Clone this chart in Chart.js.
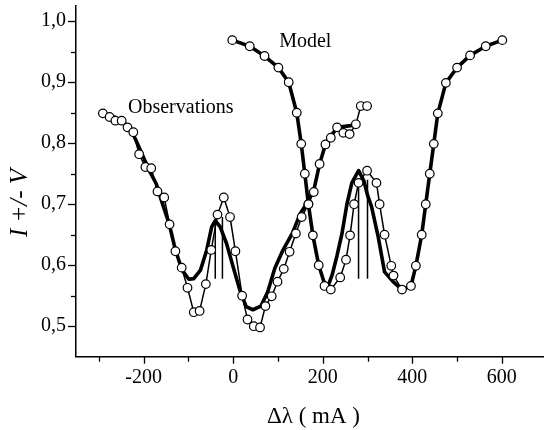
<!DOCTYPE html>
<html><head><meta charset="utf-8">
<script src="https://cdn.jsdelivr.net/npm/chart.js@4/dist/chart.umd.min.js"></script>
<style>html,body{margin:0;padding:0;background:#fff}</style>
</head><body>
<canvas id="c" width="549" height="430"></canvas>
<script>
// Observations (I+V) – open circles, thin line
const obsPlusX = [-291,-276,-263,-249,-236,-223,-210,-196,-183,-169,-154,-142,-129,-115,-102,-88,-75,-61,-49,-35,-21,-7,5,20,32,46,60,72,86,99,113,126,140,153,168,180,193,206,218,232,246,260,274,285,299];
const obsPlusY = [0.849,0.843,0.837,0.837,0.826,0.818,0.782,0.761,0.759,0.721,0.711,0.667,0.623,0.596,0.563,0.523,0.525,0.569,0.625,0.683,0.711,0.679,0.623,0.550,0.511,0.500,0.498,0.533,0.549,0.573,0.594,0.622,0.652,0.679,0.700,0.720,0.766,0.798,0.809,0.826,0.817,0.815,0.831,0.861,0.861];
// Observations (I-V)
const obsMinusX = [-2,37,70,101,124,142,152,160,168,178,191,204,218,239,252,261,270,280,299,320,327,338,353,358,377,397,408,421,430,439,448,457,475,500,529,564,601];
const obsMinusY = [0.969,0.959,0.943,0.924,0.900,0.850,0.799,0.750,0.700,0.649,0.600,0.566,0.560,0.580,0.609,0.649,0.700,0.735,0.755,0.735,0.700,0.650,0.599,0.583,0.560,0.566,0.599,0.650,0.700,0.750,0.799,0.849,0.899,0.924,0.944,0.959,0.969];
// Model (I+V) – thick line
const modelPlusX = [-269,-254,-236,-221,-205,-188,-172,-158,-143,-129,-114,-99,-88,-73,-59,-48,-40,-29,-15,0,15,29,44,62,77,93,110,132,150,165,181,193,206,218,232,254,274];
const modelPlusY = [0.844,0.839,0.828,0.811,0.785,0.756,0.734,0.701,0.668,0.625,0.592,0.577,0.578,0.592,0.625,0.663,0.673,0.663,0.636,0.597,0.559,0.532,0.527,0.533,0.556,0.595,0.623,0.652,0.685,0.702,0.726,0.766,0.798,0.811,0.826,0.828,0.830];
// Model (I-V)
const modelMinusX = [-2,37,70,101,124,142,152,160,168,178,191,204,210,221,232,243,254,265,280,292,300,309,324,338,357,371,378,397,408,421,430,439,448,457,475,500,529,564,601];
const modelMinusY = [0.969,0.959,0.943,0.924,0.900,0.850,0.799,0.750,0.700,0.649,0.600,0.570,0.562,0.584,0.616,0.652,0.700,0.735,0.755,0.738,0.715,0.696,0.646,0.589,0.573,0.564,0.560,0.566,0.599,0.650,0.700,0.750,0.799,0.849,0.899,0.924,0.944,0.959,0.969];
// Component lines
const compX = [-40,-24,280,300];
const compTop = [0.671,0.679,0.735,0.740];
const compBase = 0.578;
// Ticks
const xTickValues = [-300,-200,-100,0,100,200,300,400,500,600];
const yTickValues = [0.5,0.55,0.6,0.65,0.7,0.75,0.8,0.85,0.9,0.95,1.0];
const xTitle = 'Δλ ( mA )';
const yTitle = 'I +/- V';
const labels = [{text:'Observations', x:-117, y:0.849},{text:'Model', x:161, y:0.958}];

const pts = (xs, ys) => xs.map((x,i)=>({x:x, y:ys[i]}));
const SERIF = '"Liberation Serif", "Times New Roman", serif';

const datasets = [];
datasets.push({data:pts(obsPlusX,obsPlusY), borderColor:'#000', borderWidth:1.5, pointRadius:4.3, pointBackgroundColor:'#fff', pointBorderColor:'#000', pointBorderWidth:1.2, tension:0, order:0});
datasets.push({data:pts(obsMinusX,obsMinusY), borderColor:'#000', borderWidth:1.5, pointRadius:4.3, pointBackgroundColor:'#fff', pointBorderColor:'#000', pointBorderWidth:1.2, tension:0, order:0});
datasets.push({data:pts(modelPlusX,modelPlusY), borderColor:'#000', borderWidth:3.6, pointRadius:0, tension:0, order:1, borderJoinStyle:'round'});
datasets.push({data:pts(modelMinusX,modelMinusY), borderColor:'#000', borderWidth:3.6, pointRadius:0, tension:0, order:1, borderJoinStyle:'round'});
compX.forEach((x,i)=>{
  datasets.push({data:[{x:x,y:compBase},{x:x,y:compTop[i]}], borderColor:'#000', borderWidth:1.5, pointRadius:0, order:2});
});

const deco = {
  id:'deco',
  afterDraw(chart){
    const c = chart.ctx, xs = chart.scales.x, ys = chart.scales.y, a = chart.chartArea;
    c.save();
    c.strokeStyle = '#000'; c.lineWidth = 1.3;
    xTickValues.forEach(v=>{
      const p = Math.round(xs.getPixelForValue(v)) + 0.5;
      const len = (v % 200 === 0) ? 7 : 5;
      c.beginPath(); c.moveTo(p, a.bottom); c.lineTo(p, a.bottom + len); c.stroke();
    });
    yTickValues.forEach(v=>{
      const p = Math.round(ys.getPixelForValue(v)) + 0.5;
      const len = (Math.round(v*100) % 10 === 0) ? 8 : 5;
      c.beginPath(); c.moveTo(a.left - len, p); c.lineTo(a.left, p); c.stroke();
    });
    c.fillStyle = '#000';
    c.font = '20px ' + SERIF;
    c.textAlign = 'center'; c.textBaseline = 'alphabetic';
    labels.forEach(l=>{
      c.fillText(l.text, xs.getPixelForValue(l.x), ys.getPixelForValue(l.y));
    });
    c.font = '23px ' + SERIF;
    c.textBaseline = 'middle';
    c.fillText(xTitle, (a.left + 549) / 2 + 1, 417);
    c.save();
    c.translate(20, 203);
    c.rotate(-Math.PI/2);
    c.font = 'italic 25px ' + SERIF;
    c.fillText(yTitle, 0, 0);
    c.restore();
    c.restore();
  }
};

new Chart(document.getElementById('c'), {
  type:'line',
  data:{datasets:datasets},
  options:{
    responsive:false, animation:false, devicePixelRatio:1,
    layout:{padding:{top:6,left:0,right:0,bottom:0}},
    plugins:{legend:{display:false}, tooltip:{enabled:false}},
    scales:{
      x:{type:'linear', min:-351, max:693,
        afterBuildTicks: s => { s.ticks = xTickValues.map(v=>({value:v})); },
        afterFit: s => { s.height = 73.3; s.paddingLeft = 0; s.paddingRight = 0; },
        ticks:{autoSkip:false, maxRotation:0, padding:2, color:'#000', font:{family:SERIF, size:20},
          callback: v => (v % 200 === 0) ? String(v) : ''},
        grid:{display:false, drawTicks:true, tickLength:7},
        border:{display:true, color:'#000', width:1.5}
      },
      y:{type:'linear', min:0.45, max:1.025,
        afterBuildTicks: s => { s.ticks = yTickValues.map(v=>({value:v})); },
        afterFit: s => { s.width = 76; s.paddingTop = 0; s.paddingBottom = 0; },
        ticks:{autoSkip:false, padding:3, color:'#000', font:{family:SERIF, size:20},
          callback: v => (Math.round(v*100) % 10 === 0) ? v.toFixed(1).replace('.', ',') : ''},
        grid:{display:false, drawTicks:true, tickLength:7},
        border:{display:true, color:'#000', width:1.5}
      }
    }
  },
  plugins:[deco]
});
</script>
</body></html>
